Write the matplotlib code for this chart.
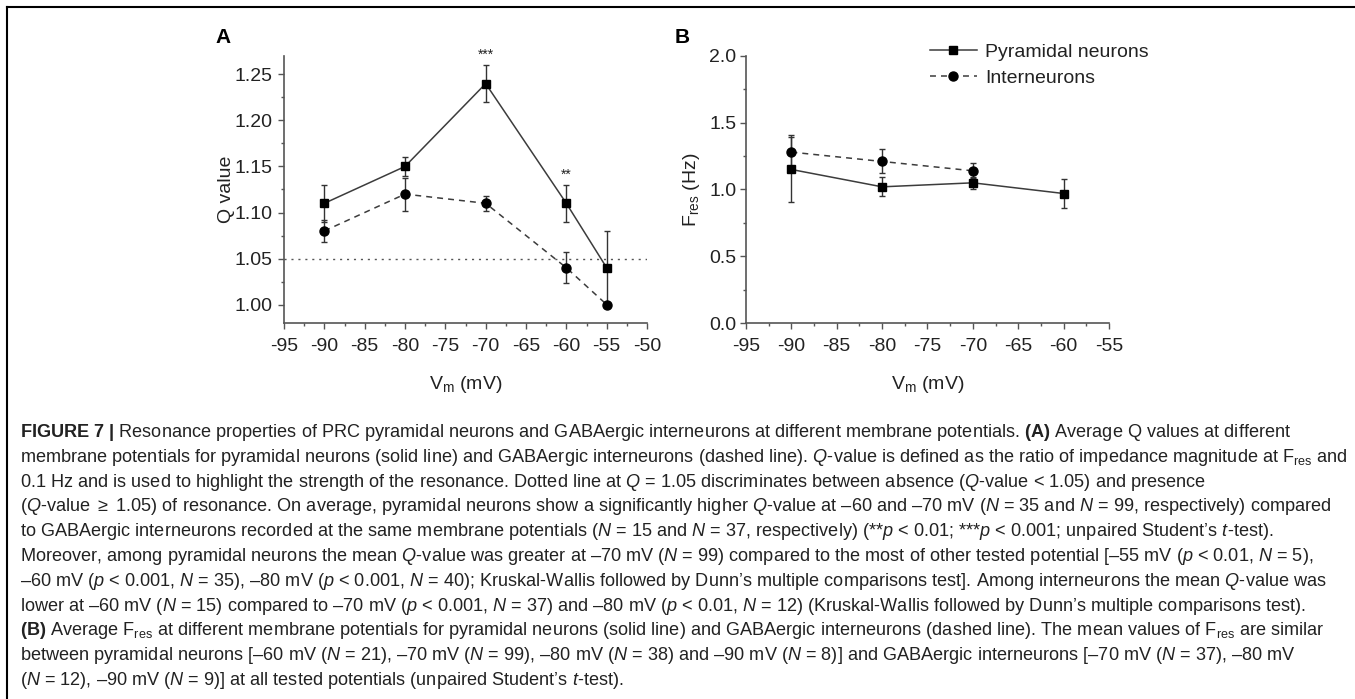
import matplotlib
matplotlib.use('Agg')
import matplotlib.pyplot as plt
import numpy as np
from matplotlib.lines import Line2D
from matplotlib.ticker import MultipleLocator, FormatStrFormatter

plt.rcParams['font.family'] = ['Liberation Sans', 'DejaVu Sans']
plt.rcParams['axes.unicode_minus'] = False
plt.rcParams['mathtext.fontset'] = 'custom'
plt.rcParams['mathtext.rm'] = 'Liberation Sans'
plt.rcParams['mathtext.it'] = 'Liberation Sans:italic'
plt.rcParams['mathtext.bf'] = 'Liberation Sans:bold'
plt.rcParams['mathtext.fallback'] = 'stixsans'

# Panel A: Q value vs membrane potential
vm_a = [-90, -80, -70, -60, -55]
q_pyr = [1.11, 1.15, 1.24, 1.11, 1.04]
q_pyr_err = [0.02, 0.01, 0.02, 0.02, 0.04]
q_int = [1.08, 1.12, 1.11, 1.04, 1.00]
q_int_err = [0.012, 0.018, 0.008, 0.017, 0.0]
q_threshold = 1.05
stars = {-70: '***', -60: '**'}

# Panel B: resonance frequency vs membrane potential
vm_b_pyr = [-90, -80, -70, -60]
f_pyr = [1.15, 1.02, 1.05, 0.97]
f_pyr_err = [0.245, 0.07, 0.045, 0.11]
vm_b_int = [-90, -80, -70]
f_int = [1.28, 1.21, 1.14]
f_int_err = [0.13, 0.09, 0.055]

labels = ['Pyramidal neurons', 'Interneurons']

caption = [
    r"$\mathbf{FIGURE\ 7\ |}$ Resonance properties of PRC pyramidal neurons and GABAergic interneurons at different membrane potentials. $\mathbf{(A)}$ Average Q values at different",
    r"membrane potentials for pyramidal neurons (solid line) and GABAergic interneurons (dashed line). $\mathit{Q}$-value is defined as the ratio of impedance magnitude at F$_{\mathrm{res}}$ and",
    r"0.1 Hz and is used to highlight the strength of the resonance. Dotted line at $\mathit{Q}$ = 1.05 discriminates between absence ($\mathit{Q}$-value < 1.05) and presence",
    r"($\mathit{Q}$-value $\geq$ 1.05) of resonance. On average, pyramidal neurons show a significantly higher $\mathit{Q}$-value at –60 and –70 mV ($\mathit{N}$ = 35 and $\mathit{N}$ = 99, respectively) compared",
    r"to GABAergic interneurons recorded at the same membrane potentials ($\mathit{N}$ = 15 and $\mathit{N}$ = 37, respectively) (**$\mathit{p}$ < 0.01; ***$\mathit{p}$ < 0.001; unpaired Student’s $\mathit{t}$-test).",
    r"Moreover, among pyramidal neurons the mean $\mathit{Q}$-value was greater at –70 mV ($\mathit{N}$ = 99) compared to the most of other tested potential [–55 mV ($\mathit{p}$ < 0.01, $\mathit{N}$ = 5),",
    r"–60 mV ($\mathit{p}$ < 0.001, $\mathit{N}$ = 35), –80 mV ($\mathit{p}$ < 0.001, $\mathit{N}$ = 40); Kruskal-Wallis followed by Dunn’s multiple comparisons test]. Among interneurons the mean $\mathit{Q}$-value was",
    r"lower at –60 mV ($\mathit{N}$ = 15) compared to –70 mV ($\mathit{p}$ < 0.001, $\mathit{N}$ = 37) and –80 mV ($\mathit{p}$ < 0.01, $\mathit{N}$ = 12) (Kruskal-Wallis followed by Dunn’s multiple comparisons test).",
    r"$\mathbf{(B)}$ Average F$_{\mathrm{res}}$ at different membrane potentials for pyramidal neurons (solid line) and GABAergic interneurons (dashed line). The mean values of F$_{\mathrm{res}}$ are similar",
    r"between pyramidal neurons [–60 mV ($\mathit{N}$ = 21), –70 mV ($\mathit{N}$ = 99), –80 mV ($\mathit{N}$ = 38) and –90 mV ($\mathit{N}$ = 8)] and GABAergic interneurons [–70 mV ($\mathit{N}$ = 37), –80 mV",
    r"($\mathit{N}$ = 12), –90 mV ($\mathit{N}$ = 9)] at all tested potentials (unpaired Student’s $\mathit{t}$-test).",
]
# approximate right end (px) of each full caption line in the reference
caption_right = [1228, 1332, 1233, 1327, 1312, 1333, 1335, 1333, 1322, 1325]

W, H = 1355, 699
fig = plt.figure(figsize=(W / 100, H / 100), dpi=100)


def box(l, t, r, b):
    return [l / W, 1 - b / H, (r - l) / W, (b - t) / H]


axA = fig.add_axes(box(284, 56, 647, 323))
axB = fig.add_axes(box(746, 56, 1109, 323))

line_c = '#3c3c3c'
axis_c = '#555555'
text_c = '#222222'


def style(ax, ypad):
    for s in ['top', 'right']:
        ax.spines[s].set_visible(False)
    for s in ['left', 'bottom']:
        ax.spines[s].set_color(axis_c)
        ax.spines[s].set_linewidth(1.2)
    ax.tick_params(which='both', direction='out', color=axis_c, width=1.0,
                   labelsize=14, labelcolor=text_c)
    ax.tick_params(which='major', length=4)
    ax.tick_params(which='minor', length=2.5)
    ax.tick_params(axis='x', pad=7)
    ax.tick_params(axis='y', pad=ypad)


pyr_kw = dict(color=line_c, lw=1.1, marker='s', ms=6, mfc='black', mec='black',
              ecolor='#333333', elinewidth=1.0, capsize=2.5, capthick=1.0)
int_kw = dict(color=line_c, lw=1.1, ls=(0, (3.9, 3.3)), marker='o', ms=6.5, mfc='black',
              mec='black', ecolor='#333333', elinewidth=1.0, capsize=2.5, capthick=1.0)

# Panel A
axA.axhline(q_threshold, color='#555555', lw=1.0, ls=(0, (1.5, 3.5)))
axA.errorbar(vm_a, q_pyr, yerr=q_pyr_err, zorder=3, **pyr_kw)
axA.errorbar(vm_a, q_int, yerr=q_int_err, zorder=3, **int_kw)
for x, s in stars.items():
    i = vm_a.index(x)
    axA.text(x, q_pyr[i] + q_pyr_err[i] + 0.011, s, ha='center', va='center',
             fontsize=10, color=text_c, clip_on=False)
axA.set_xlim(-95, -50)
axA.set_ylim(0.98, 1.27)
axA.xaxis.set_major_locator(MultipleLocator(5))
axA.xaxis.set_minor_locator(MultipleLocator(2.5))
axA.yaxis.set_major_locator(MultipleLocator(0.05))
axA.yaxis.set_minor_locator(MultipleLocator(0.025))
axA.yaxis.set_major_formatter(FormatStrFormatter('%.2f'))
style(axA, 4)
axA.set_ylabel('Q value', fontsize=14, color=text_c)
axA.yaxis.set_label_coords(-0.135, 0.5)
axA.set_xlabel(r'V$_{\mathrm{m}}$ (mV)', fontsize=14, color=text_c)
axA.xaxis.set_label_coords(0.5, -0.19)

# Panel B
axB.errorbar(vm_b_pyr, f_pyr, yerr=f_pyr_err, zorder=3, **pyr_kw)
axB.errorbar(vm_b_int, f_int, yerr=f_int_err, zorder=3, **int_kw)
axB.set_xlim(-95, -55)
axB.set_ylim(0, 2.0)
axB.xaxis.set_major_locator(MultipleLocator(5))
axB.xaxis.set_minor_locator(MultipleLocator(2.5))
axB.yaxis.set_major_locator(MultipleLocator(0.5))
axB.yaxis.set_minor_locator(MultipleLocator(0.25))
axB.yaxis.set_major_formatter(FormatStrFormatter('%.1f'))
style(axB, 3)
axB.set_ylabel(r'F$_{\mathrm{res}}$ (Hz)', fontsize=14, color=text_c)
axB.yaxis.set_label_coords(-0.121, 0.5)
axB.set_xlabel(r'V$_{\mathrm{m}}$ (mV)', fontsize=14, color=text_c)
axB.xaxis.set_label_coords(0.5, -0.19)

handles = [
    Line2D([], [], color=line_c, lw=1.1, marker='s', ms=6, mfc='black', mec='black'),
    Line2D([], [], color=line_c, lw=1.1, ls=(0, (3.9, 3.3)), marker='o', ms=6.5,
           mfc='black', mec='black'),
]
fig.legend(handles, labels, loc='upper left', bbox_to_anchor=(930 / W, 1 - 43 / H),
           frameon=False, borderpad=0, borderaxespad=0, handlelength=2.4,
           handletextpad=0.45, labelspacing=0.45, fontsize=14, numpoints=1,
           labelcolor=text_c)

# panel letters
fig.text(215 / W, 1 - 43 / H, 'A', fontsize=15, fontweight='bold', va='baseline')
fig.text(675 / W, 1 - 43 / H, 'B', fontsize=15, fontweight='bold', va='baseline')

# frame lines
fig.add_artist(Line2D([7 / W, 1], [1 - 7 / H, 1 - 7 / H], color='black', lw=1.5))
fig.add_artist(Line2D([7 / W, 7 / W], [0, 1 - 7 / H], color='black', lw=1.5))

# caption: font size fitted so the lines span about the same widths as in the figure,
# but never wider than the page
cap_family = ['Liberation Sans Narrow', 'Liberation Sans']
cap_left = 20
renderer = fig.canvas.get_renderer()
ratios, limits = [], []
for line, right in zip(caption, caption_right):
    probe = fig.text(0, 0, line, fontsize=12, family=cap_family)
    w = probe.get_window_extent(renderer).width
    ratios.append((right - cap_left) / w)
    limits.append((1342 - cap_left) / w)
    probe.remove()
cap_size = 12 * min(float(np.median(ratios)), min(limits))
for i, line in enumerate(caption):
    fig.text(cap_left / W, 1 - (437 + 24.8 * i) / H, line, fontsize=cap_size,
             family=cap_family, va='baseline', ha='left', color=text_c)

fig.savefig('out.png', dpi=100)
